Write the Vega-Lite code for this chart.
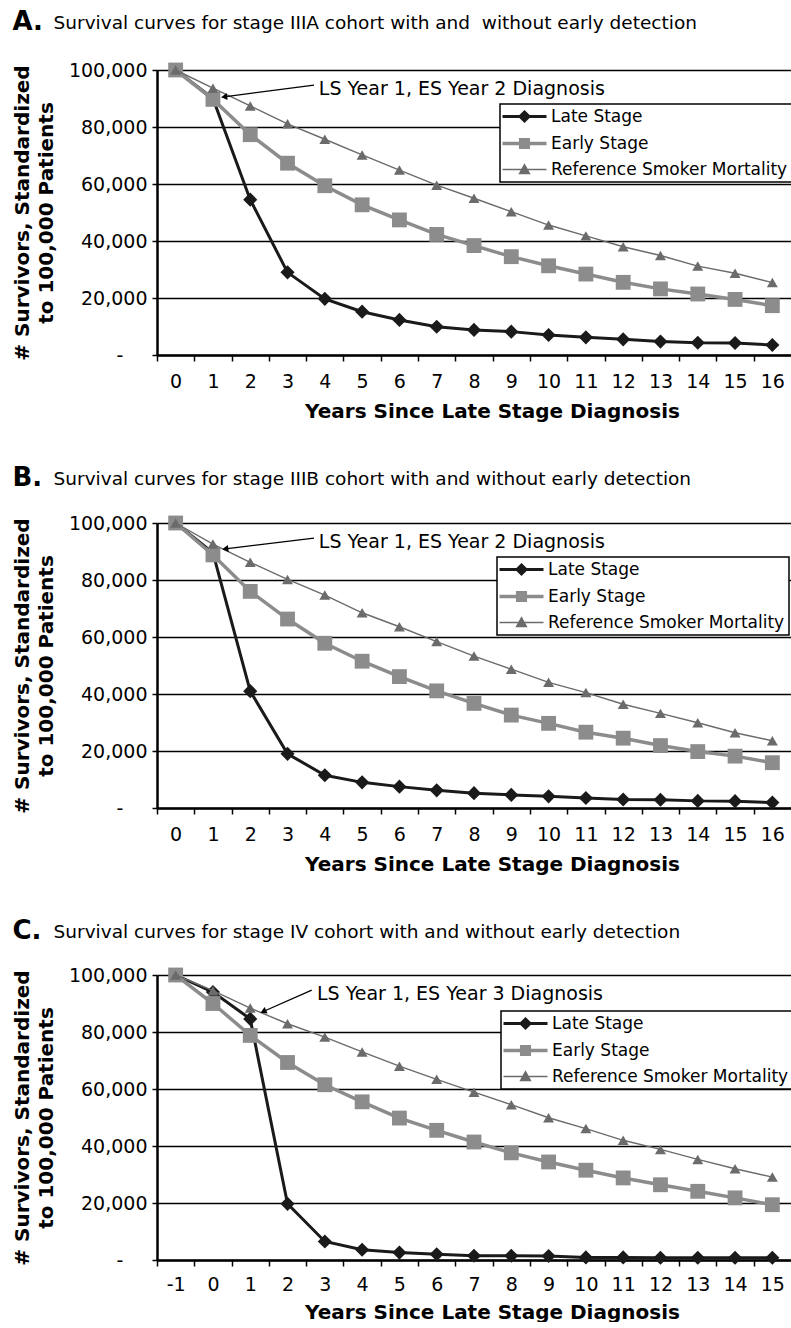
{
  "$schema": "https://vega.github.io/schema/vega-lite/v6.json",
  "padding": {"left": 12, "top": 9, "right": 0, "bottom": 0},
  "spacing": 44,
  "resolve": {"scale": {"color": "independent"}},
  "config": {
    "font": "DejaVu Sans",
    "view": {"stroke": null},
    "axis": {"labelFont": "DejaVu Sans", "titleFont": "DejaVu Sans", "labelColor": "#000", "titleColor": "#000", "domainColor": "#000", "tickColor": "#000", "gridColor": "#000"},
    "title": {"color": "#000", "subtitleColor": "#000", "font": "DejaVu Sans", "subtitleFont": "DejaVu Sans"}
  },
  "datasets": {
    "A": [
      {"series": "Late Stage", "year": 0, "survivors": 100000}, {"series": "Late Stage", "year": 1, "survivors": 90000}, {"series": "Late Stage", "year": 2, "survivors": 54500}, {"series": "Late Stage", "year": 3, "survivors": 29000}, {"series": "Late Stage", "year": 4, "survivors": 19700}, {"series": "Late Stage", "year": 5, "survivors": 15200}, {"series": "Late Stage", "year": 6, "survivors": 12300}, {"series": "Late Stage", "year": 7, "survivors": 9900}, {"series": "Late Stage", "year": 8, "survivors": 8800}, {"series": "Late Stage", "year": 9, "survivors": 8200}, {"series": "Late Stage", "year": 10, "survivors": 7000}, {"series": "Late Stage", "year": 11, "survivors": 6200}, {"series": "Late Stage", "year": 12, "survivors": 5500}, {"series": "Late Stage", "year": 13, "survivors": 4700}, {"series": "Late Stage", "year": 14, "survivors": 4300}, {"series": "Late Stage", "year": 15, "survivors": 4200}, {"series": "Late Stage", "year": 16, "survivors": 3500},
      {"series": "Early Stage", "year": 0, "survivors": 100000}, {"series": "Early Stage", "year": 1, "survivors": 89700}, {"series": "Early Stage", "year": 2, "survivors": 77300}, {"series": "Early Stage", "year": 3, "survivors": 67300}, {"series": "Early Stage", "year": 4, "survivors": 59400}, {"series": "Early Stage", "year": 5, "survivors": 52700}, {"series": "Early Stage", "year": 6, "survivors": 47400}, {"series": "Early Stage", "year": 7, "survivors": 42300}, {"series": "Early Stage", "year": 8, "survivors": 38400}, {"series": "Early Stage", "year": 9, "survivors": 34500}, {"series": "Early Stage", "year": 10, "survivors": 31300}, {"series": "Early Stage", "year": 11, "survivors": 28400}, {"series": "Early Stage", "year": 12, "survivors": 25500}, {"series": "Early Stage", "year": 13, "survivors": 23200}, {"series": "Early Stage", "year": 14, "survivors": 21400}, {"series": "Early Stage", "year": 15, "survivors": 19500}, {"series": "Early Stage", "year": 16, "survivors": 17300},
      {"series": "Reference Smoker Mortality", "year": 0, "survivors": 100000}, {"series": "Reference Smoker Mortality", "year": 1, "survivors": 93600}, {"series": "Reference Smoker Mortality", "year": 2, "survivors": 87400}, {"series": "Reference Smoker Mortality", "year": 3, "survivors": 81100}, {"series": "Reference Smoker Mortality", "year": 4, "survivors": 75700}, {"series": "Reference Smoker Mortality", "year": 5, "survivors": 70200}, {"series": "Reference Smoker Mortality", "year": 6, "survivors": 64900}, {"series": "Reference Smoker Mortality", "year": 7, "survivors": 59600}, {"series": "Reference Smoker Mortality", "year": 8, "survivors": 55000}, {"series": "Reference Smoker Mortality", "year": 9, "survivors": 50300}, {"series": "Reference Smoker Mortality", "year": 10, "survivors": 45600}, {"series": "Reference Smoker Mortality", "year": 11, "survivors": 41800}, {"series": "Reference Smoker Mortality", "year": 12, "survivors": 38000}, {"series": "Reference Smoker Mortality", "year": 13, "survivors": 34900}, {"series": "Reference Smoker Mortality", "year": 14, "survivors": 31200}, {"series": "Reference Smoker Mortality", "year": 15, "survivors": 28700}, {"series": "Reference Smoker Mortality", "year": 16, "survivors": 25400}
    ],
    "B": [
      {"series": "Late Stage", "year": 0, "survivors": 100000}, {"series": "Late Stage", "year": 1, "survivors": 89500}, {"series": "Late Stage", "year": 2, "survivors": 41000}, {"series": "Late Stage", "year": 3, "survivors": 19000}, {"series": "Late Stage", "year": 4, "survivors": 11500}, {"series": "Late Stage", "year": 5, "survivors": 9000}, {"series": "Late Stage", "year": 6, "survivors": 7500}, {"series": "Late Stage", "year": 7, "survivors": 6200}, {"series": "Late Stage", "year": 8, "survivors": 5200}, {"series": "Late Stage", "year": 9, "survivors": 4600}, {"series": "Late Stage", "year": 10, "survivors": 4100}, {"series": "Late Stage", "year": 11, "survivors": 3500}, {"series": "Late Stage", "year": 12, "survivors": 3000}, {"series": "Late Stage", "year": 13, "survivors": 2900}, {"series": "Late Stage", "year": 14, "survivors": 2500}, {"series": "Late Stage", "year": 15, "survivors": 2400}, {"series": "Late Stage", "year": 16, "survivors": 1900},
      {"series": "Early Stage", "year": 0, "survivors": 100000}, {"series": "Early Stage", "year": 1, "survivors": 88800}, {"series": "Early Stage", "year": 2, "survivors": 76000}, {"series": "Early Stage", "year": 3, "survivors": 66300}, {"series": "Early Stage", "year": 4, "survivors": 57800}, {"series": "Early Stage", "year": 5, "survivors": 51500}, {"series": "Early Stage", "year": 6, "survivors": 46100}, {"series": "Early Stage", "year": 7, "survivors": 41100}, {"series": "Early Stage", "year": 8, "survivors": 36700}, {"series": "Early Stage", "year": 9, "survivors": 32600}, {"series": "Early Stage", "year": 10, "survivors": 29700}, {"series": "Early Stage", "year": 11, "survivors": 26600}, {"series": "Early Stage", "year": 12, "survivors": 24500}, {"series": "Early Stage", "year": 13, "survivors": 21900}, {"series": "Early Stage", "year": 14, "survivors": 19800}, {"series": "Early Stage", "year": 15, "survivors": 18200}, {"series": "Early Stage", "year": 16, "survivors": 15900},
      {"series": "Reference Smoker Mortality", "year": 0, "survivors": 100000}, {"series": "Reference Smoker Mortality", "year": 1, "survivors": 92600}, {"series": "Reference Smoker Mortality", "year": 2, "survivors": 86200}, {"series": "Reference Smoker Mortality", "year": 3, "survivors": 80200}, {"series": "Reference Smoker Mortality", "year": 4, "survivors": 74700}, {"series": "Reference Smoker Mortality", "year": 5, "survivors": 68500}, {"series": "Reference Smoker Mortality", "year": 6, "survivors": 63600}, {"series": "Reference Smoker Mortality", "year": 7, "survivors": 58400}, {"series": "Reference Smoker Mortality", "year": 8, "survivors": 53300}, {"series": "Reference Smoker Mortality", "year": 9, "survivors": 48700}, {"series": "Reference Smoker Mortality", "year": 10, "survivors": 44100}, {"series": "Reference Smoker Mortality", "year": 11, "survivors": 40500}, {"series": "Reference Smoker Mortality", "year": 12, "survivors": 36400}, {"series": "Reference Smoker Mortality", "year": 13, "survivors": 33200}, {"series": "Reference Smoker Mortality", "year": 14, "survivors": 29900}, {"series": "Reference Smoker Mortality", "year": 15, "survivors": 26400}, {"series": "Reference Smoker Mortality", "year": 16, "survivors": 23600}
    ],
    "C": [
      {"series": "Late Stage", "year": -1, "survivors": 100000}, {"series": "Late Stage", "year": 0, "survivors": 94000}, {"series": "Late Stage", "year": 1, "survivors": 84600}, {"series": "Late Stage", "year": 2, "survivors": 19700}, {"series": "Late Stage", "year": 3, "survivors": 6500}, {"series": "Late Stage", "year": 4, "survivors": 3600}, {"series": "Late Stage", "year": 5, "survivors": 2600}, {"series": "Late Stage", "year": 6, "survivors": 2000}, {"series": "Late Stage", "year": 7, "survivors": 1500}, {"series": "Late Stage", "year": 8, "survivors": 1500}, {"series": "Late Stage", "year": 9, "survivors": 1400}, {"series": "Late Stage", "year": 10, "survivors": 900}, {"series": "Late Stage", "year": 11, "survivors": 900}, {"series": "Late Stage", "year": 12, "survivors": 800}, {"series": "Late Stage", "year": 13, "survivors": 800}, {"series": "Late Stage", "year": 14, "survivors": 800}, {"series": "Late Stage", "year": 15, "survivors": 800},
      {"series": "Early Stage", "year": -1, "survivors": 100000}, {"series": "Early Stage", "year": 0, "survivors": 90000}, {"series": "Early Stage", "year": 1, "survivors": 78800}, {"series": "Early Stage", "year": 2, "survivors": 69300}, {"series": "Early Stage", "year": 3, "survivors": 61500}, {"series": "Early Stage", "year": 4, "survivors": 55500}, {"series": "Early Stage", "year": 5, "survivors": 49800}, {"series": "Early Stage", "year": 6, "survivors": 45500}, {"series": "Early Stage", "year": 7, "survivors": 41400}, {"series": "Early Stage", "year": 8, "survivors": 37600}, {"series": "Early Stage", "year": 9, "survivors": 34400}, {"series": "Early Stage", "year": 10, "survivors": 31500}, {"series": "Early Stage", "year": 11, "survivors": 28800}, {"series": "Early Stage", "year": 12, "survivors": 26400}, {"series": "Early Stage", "year": 13, "survivors": 24100}, {"series": "Early Stage", "year": 14, "survivors": 21800}, {"series": "Early Stage", "year": 15, "survivors": 19400},
      {"series": "Reference Smoker Mortality", "year": -1, "survivors": 100000}, {"series": "Reference Smoker Mortality", "year": 0, "survivors": 94500}, {"series": "Reference Smoker Mortality", "year": 1, "survivors": 88400}, {"series": "Reference Smoker Mortality", "year": 2, "survivors": 82900}, {"series": "Reference Smoker Mortality", "year": 3, "survivors": 78200}, {"series": "Reference Smoker Mortality", "year": 4, "survivors": 73000}, {"series": "Reference Smoker Mortality", "year": 5, "survivors": 68000}, {"series": "Reference Smoker Mortality", "year": 6, "survivors": 63400}, {"series": "Reference Smoker Mortality", "year": 7, "survivors": 58900}, {"series": "Reference Smoker Mortality", "year": 8, "survivors": 54500}, {"series": "Reference Smoker Mortality", "year": 9, "survivors": 49900}, {"series": "Reference Smoker Mortality", "year": 10, "survivors": 46100}, {"series": "Reference Smoker Mortality", "year": 11, "survivors": 42000}, {"series": "Reference Smoker Mortality", "year": 12, "survivors": 38800}, {"series": "Reference Smoker Mortality", "year": 13, "survivors": 35300}, {"series": "Reference Smoker Mortality", "year": 14, "survivors": 32000}, {"series": "Reference Smoker Mortality", "year": 15, "survivors": 29100}
    ]
  },
  "vconcat": [
    {
      "width": 634, "height": 285,
      "title": {"text": "A.", "subtitle": "\u200b\u00a0\u00a0\u00a0\u00a0\u00a0\u00a0\u00a0Survival curves for stage IIIA cohort with and \u00a0without early detection", "anchor": "start", "frame": "bounds", "fontSize": 26, "fontWeight": "bold", "subtitleFontSize": 18.5, "subtitlePadding": -21, "offset": 26},
      "data": {"name": "A"},
      "encoding": {
        "x": {"field": "year", "type": "quantitative", "scale": {"domain": [-0.5, 16.5], "nice": false, "zero": false},
          "axis": {"values": [0,1,2,3,4,5,6,7,8,9,10,11,12,13,14,15,16], "labelExpr": "'' + datum.value", "tickOffset": -18.65, "labelOffset": 18.65, "grid": false, "domainWidth": 2.5, "tickSize": 6, "tickWidth": 1.5, "labelFontSize": 19, "labelPadding": 11, "labelFlush": false, "labelOverlap": false, "title": "Years Since Late Stage Diagnosis", "titleFontSize": 20, "titleFontWeight": "bold", "titlePadding": 10, "titleX": 335}},
        "y": {"field": "survivors", "type": "quantitative", "scale": {"domain": [0, 100000], "nice": false},
          "axis": {"values": [0,20000,40000,60000,80000,100000], "grid": true, "gridWidth": 1.3, "domainWidth": 2.5, "tickSize": 5, "tickWidth": 1.5, "labelFontSize": 19, "labelPadding": 5, "labelExpr": "datum.value === 0 ? '-\u00a0\u00a0\u00a0\u00a0\u200b' : format(datum.value, ',')", "title": ["# Survivors, Standardized", "to 100,000 Patients"], "titleFontSize": 20, "titleFontWeight": "bold", "titleLineHeight": 24, "titlePadding": 12}}
      },
      "layer": [
        {"transform": [{"filter": "datum.series === 'Late Stage'"}], "mark": {"type": "line", "strokeWidth": 3, "point": {"shape": "diamond", "size": 200, "filled": true, "opacity": 1}},
         "encoding": {"color": {"field": "series", "type": "nominal", "scale": {"domain": ["Late Stage", "Early Stage", "Reference Smoker Mortality"], "range": ["#1a1a1a", "#8c8c8c", "#6b6b6b"]},
           "legend": {"title": null, "orient": "none", "legendX": 343, "legendY": 34, "fillColor": "#ffffff", "strokeColor": "#000000", "padding": 4, "labelFontSize": 17, "labelFont": "DejaVu Sans", "labelColor": "#000", "labelLimit": 400, "symbolSize": 400, "symbolOffset": 12, "labelOffset": 18, "rowPadding": 5,
             "encode": {"legend": {"update": {"strokeWidth": {"value": 1.5}}}, "symbols": {"update": {"shape": {"signal": "datum.value === 'Late Stage' ? 'M-2.2,0H2.2M0,-0.45L0.45,0L0,0.45L-0.45,0Z' : datum.value === 'Early Stage' ? 'M-2.2,0H2.2M-0.38,-0.38H0.38V0.38H-0.38Z' : 'M-2.2,0H2.2M0,-0.5L0.5,0.4H-0.5Z'"}, "fill": {"signal": "datum.value === 'Late Stage' ? '#1a1a1a' : datum.value === 'Early Stage' ? '#8c8c8c' : '#6b6b6b'"}, "stroke": {"signal": "datum.value === 'Late Stage' ? '#1a1a1a' : datum.value === 'Early Stage' ? '#8c8c8c' : '#6b6b6b'"}, "strokeWidth": {"signal": "datum.value === 'Late Stage' ? 3 : datum.value === 'Early Stage' ? 3.5 : 1.3"}, "opacity": {"value": 1}, "fillOpacity": {"value": 1}}}}}}}},
        {"transform": [{"filter": "datum.series === 'Early Stage'"}], "mark": {"type": "line", "strokeWidth": 3.5, "point": {"shape": "square", "size": 220, "filled": true, "opacity": 1}},
         "encoding": {"color": {"field": "series", "type": "nominal"}}},
        {"transform": [{"filter": "datum.series === 'Reference Smoker Mortality'"}], "mark": {"type": "line", "strokeWidth": 1.4, "point": {"shape": "triangle-up", "size": 120, "filled": true, "opacity": 1}},
         "encoding": {"color": {"field": "series", "type": "nominal"}}},
        {"data": {"values": [{"year": 3.84, "survivors": 93500, "label": "LS Year 1, ES Year 2 Diagnosis"}]}, "mark": {"type": "text", "align": "left", "baseline": "middle", "fontSize": 19, "color": "#000"}, "encoding": {"text": {"field": "label"}}},
        {"data": {"values": [{"year": 1.3, "survivors": 90600, "year2": 3.71, "survivors2": 94700}]}, "mark": {"type": "rule", "strokeWidth": 1.3, "color": "#000"}, "encoding": {"x2": {"field": "year2"}, "y2": {"field": "survivors2"}}},
        {"data": {"values": [{"year": 1.3, "survivors": 90600}]}, "mark": {"type": "point", "shape": "triangle-left", "size": 50, "filled": true, "color": "#000", "opacity": 1, "angle": 352.6}}
      ]
    },
    {
      "width": 634, "height": 285,
      "title": {"text": "B.", "subtitle": "\u200b\u00a0\u00a0\u00a0\u00a0\u00a0\u00a0\u00a0Survival curves for stage IIIB cohort with and without early detection", "anchor": "start", "frame": "bounds", "fontSize": 26, "fontWeight": "bold", "subtitleFontSize": 18.5, "subtitlePadding": -21, "offset": 23},
      "data": {"name": "B"},
      "encoding": {
        "x": {"field": "year", "type": "quantitative", "scale": {"domain": [-0.5, 16.5], "nice": false, "zero": false},
          "axis": {"values": [0,1,2,3,4,5,6,7,8,9,10,11,12,13,14,15,16], "labelExpr": "'' + datum.value", "tickOffset": -18.65, "labelOffset": 18.65, "grid": false, "domainWidth": 2.5, "tickSize": 6, "tickWidth": 1.5, "labelFontSize": 19, "labelPadding": 11, "labelFlush": false, "labelOverlap": false, "title": "Years Since Late Stage Diagnosis", "titleFontSize": 20, "titleFontWeight": "bold", "titlePadding": 10, "titleX": 335}},
        "y": {"field": "survivors", "type": "quantitative", "scale": {"domain": [0, 100000], "nice": false},
          "axis": {"values": [0,20000,40000,60000,80000,100000], "grid": true, "gridWidth": 1.3, "domainWidth": 2.5, "tickSize": 5, "tickWidth": 1.5, "labelFontSize": 19, "labelPadding": 5, "labelExpr": "datum.value === 0 ? '-\u00a0\u00a0\u00a0\u00a0\u200b' : format(datum.value, ',')", "title": ["# Survivors, Standardized", "to 100,000 Patients"], "titleFontSize": 20, "titleFontWeight": "bold", "titleLineHeight": 24, "titlePadding": 12}}
      },
      "layer": [
        {"transform": [{"filter": "datum.series === 'Late Stage'"}], "mark": {"type": "line", "strokeWidth": 3, "point": {"shape": "diamond", "size": 200, "filled": true, "opacity": 1}},
         "encoding": {"color": {"field": "series", "type": "nominal", "scale": {"domain": ["Late Stage", "Early Stage", "Reference Smoker Mortality"], "range": ["#1a1a1a", "#8c8c8c", "#6b6b6b"]},
           "legend": {"title": null, "orient": "none", "legendX": 340, "legendY": 34, "fillColor": "#ffffff", "strokeColor": "#000000", "padding": 4, "labelFontSize": 17, "labelFont": "DejaVu Sans", "labelColor": "#000", "labelLimit": 400, "symbolSize": 400, "symbolOffset": 12, "labelOffset": 18, "rowPadding": 5,
             "encode": {"legend": {"update": {"strokeWidth": {"value": 1.5}}}, "symbols": {"update": {"shape": {"signal": "datum.value === 'Late Stage' ? 'M-2.2,0H2.2M0,-0.45L0.45,0L0,0.45L-0.45,0Z' : datum.value === 'Early Stage' ? 'M-2.2,0H2.2M-0.38,-0.38H0.38V0.38H-0.38Z' : 'M-2.2,0H2.2M0,-0.5L0.5,0.4H-0.5Z'"}, "fill": {"signal": "datum.value === 'Late Stage' ? '#1a1a1a' : datum.value === 'Early Stage' ? '#8c8c8c' : '#6b6b6b'"}, "stroke": {"signal": "datum.value === 'Late Stage' ? '#1a1a1a' : datum.value === 'Early Stage' ? '#8c8c8c' : '#6b6b6b'"}, "strokeWidth": {"signal": "datum.value === 'Late Stage' ? 3 : datum.value === 'Early Stage' ? 3.5 : 1.3"}, "opacity": {"value": 1}, "fillOpacity": {"value": 1}}}}}}}},
        {"transform": [{"filter": "datum.series === 'Early Stage'"}], "mark": {"type": "line", "strokeWidth": 3.5, "point": {"shape": "square", "size": 220, "filled": true, "opacity": 1}},
         "encoding": {"color": {"field": "series", "type": "nominal"}}},
        {"transform": [{"filter": "datum.series === 'Reference Smoker Mortality'"}], "mark": {"type": "line", "strokeWidth": 1.4, "point": {"shape": "triangle-up", "size": 120, "filled": true, "opacity": 1}},
         "encoding": {"color": {"field": "series", "type": "nominal"}}},
        {"data": {"values": [{"year": 3.84, "survivors": 93300, "label": "LS Year 1, ES Year 2 Diagnosis"}]}, "mark": {"type": "text", "align": "left", "baseline": "middle", "fontSize": 19, "color": "#000"}, "encoding": {"text": {"field": "label"}}},
        {"data": {"values": [{"year": 1.33, "survivors": 90900, "year2": 3.71, "survivors2": 94700}]}, "mark": {"type": "rule", "strokeWidth": 1.3, "color": "#000"}, "encoding": {"x2": {"field": "year2"}, "y2": {"field": "survivors2"}}},
        {"data": {"values": [{"year": 1.33, "survivors": 90900}]}, "mark": {"type": "point", "shape": "triangle-left", "size": 50, "filled": true, "color": "#000", "opacity": 1, "angle": 353}}
      ]
    },
    {
      "width": 634, "height": 285,
      "title": {"text": "C.", "subtitle": "\u200b\u00a0\u00a0\u00a0\u00a0\u00a0\u00a0\u00a0Survival curves for stage IV cohort with and without early detection", "anchor": "start", "frame": "bounds", "fontSize": 26, "fontWeight": "bold", "subtitleFontSize": 18.5, "subtitlePadding": -21, "offset": 22},
      "data": {"name": "C"},
      "encoding": {
        "x": {"field": "year", "type": "quantitative", "scale": {"domain": [-1.5, 15.5], "nice": false, "zero": false},
          "axis": {"values": [-1,0,1,2,3,4,5,6,7,8,9,10,11,12,13,14,15], "labelExpr": "'' + datum.value", "tickOffset": -18.65, "labelOffset": 18.65, "grid": false, "domainWidth": 2.5, "tickSize": 6, "tickWidth": 1.5, "labelFontSize": 19, "labelPadding": 9, "labelFlush": false, "labelOverlap": false, "title": "Years Since Late Stage Diagnosis", "titleFontSize": 20, "titleFontWeight": "bold", "titlePadding": 8, "titleX": 335}},
        "y": {"field": "survivors", "type": "quantitative", "scale": {"domain": [0, 100000], "nice": false},
          "axis": {"values": [0,20000,40000,60000,80000,100000], "grid": true, "gridWidth": 1.3, "domainWidth": 2.5, "tickSize": 5, "tickWidth": 1.5, "labelFontSize": 19, "labelPadding": 5, "labelExpr": "datum.value === 0 ? '-\u00a0\u00a0\u00a0\u00a0\u200b' : format(datum.value, ',')", "title": ["# Survivors, Standardized", "to 100,000 Patients"], "titleFontSize": 20, "titleFontWeight": "bold", "titleLineHeight": 24, "titlePadding": 12}}
      },
      "layer": [
        {"transform": [{"filter": "datum.series === 'Late Stage'"}], "mark": {"type": "line", "strokeWidth": 3, "point": {"shape": "diamond", "size": 200, "filled": true, "opacity": 1}},
         "encoding": {"color": {"field": "series", "type": "nominal", "scale": {"domain": ["Late Stage", "Early Stage", "Reference Smoker Mortality"], "range": ["#1a1a1a", "#8c8c8c", "#6b6b6b"]},
           "legend": {"title": null, "orient": "none", "legendX": 344, "legendY": 36, "fillColor": "#ffffff", "strokeColor": "#000000", "padding": 4, "labelFontSize": 17, "labelFont": "DejaVu Sans", "labelColor": "#000", "labelLimit": 400, "symbolSize": 400, "symbolOffset": 12, "labelOffset": 18, "rowPadding": 5,
             "encode": {"legend": {"update": {"strokeWidth": {"value": 1.5}}}, "symbols": {"update": {"shape": {"signal": "datum.value === 'Late Stage' ? 'M-2.2,0H2.2M0,-0.45L0.45,0L0,0.45L-0.45,0Z' : datum.value === 'Early Stage' ? 'M-2.2,0H2.2M-0.38,-0.38H0.38V0.38H-0.38Z' : 'M-2.2,0H2.2M0,-0.5L0.5,0.4H-0.5Z'"}, "fill": {"signal": "datum.value === 'Late Stage' ? '#1a1a1a' : datum.value === 'Early Stage' ? '#8c8c8c' : '#6b6b6b'"}, "stroke": {"signal": "datum.value === 'Late Stage' ? '#1a1a1a' : datum.value === 'Early Stage' ? '#8c8c8c' : '#6b6b6b'"}, "strokeWidth": {"signal": "datum.value === 'Late Stage' ? 3 : datum.value === 'Early Stage' ? 3.5 : 1.3"}, "opacity": {"value": 1}, "fillOpacity": {"value": 1}}}}}}}},
        {"transform": [{"filter": "datum.series === 'Early Stage'"}], "mark": {"type": "line", "strokeWidth": 3.5, "point": {"shape": "square", "size": 220, "filled": true, "opacity": 1}},
         "encoding": {"color": {"field": "series", "type": "nominal"}}},
        {"transform": [{"filter": "datum.series === 'Reference Smoker Mortality'"}], "mark": {"type": "line", "strokeWidth": 1.4, "point": {"shape": "triangle-up", "size": 120, "filled": true, "opacity": 1}},
         "encoding": {"color": {"field": "series", "type": "nominal"}}},
        {"data": {"values": [{"year": 2.79, "survivors": 93300, "label": "LS Year 1, ES Year 3 Diagnosis"}]}, "mark": {"type": "text", "align": "left", "baseline": "middle", "fontSize": 19, "color": "#000"}, "encoding": {"text": {"field": "label"}}},
        {"data": {"values": [{"year": 1.35, "survivors": 87200, "year2": 2.65, "survivors2": 94700}]}, "mark": {"type": "rule", "strokeWidth": 1.3, "color": "#000"}, "encoding": {"x2": {"field": "year2"}, "y2": {"field": "survivors2"}}},
        {"data": {"values": [{"year": 1.35, "survivors": 87200}]}, "mark": {"type": "point", "shape": "triangle-left", "size": 50, "filled": true, "color": "#000", "opacity": 1, "angle": 336}}
      ]
    }
  ]
}
